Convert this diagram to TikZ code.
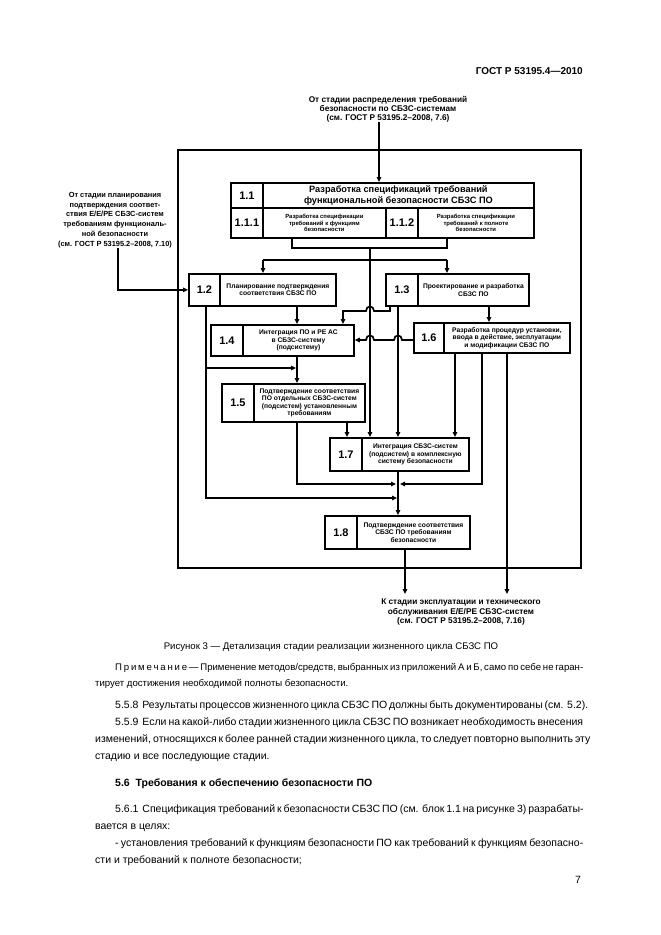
\documentclass[tikz,border=0pt]{standalone}
\usepackage{fontspec}
\setmainfont{Liberation Sans}
\usetikzlibrary{arrows.meta}
\begin{document}
\begin{tikzpicture}[x=1pt,y=-1pt,
  cell/.style={draw,line width=1.8pt,anchor=north west,inner sep=0pt,align=center,
    font=\bfseries\fontsize{6.7}{7.6}\selectfont},
  tiny/.style={cell,font=\bfseries\fontsize{5.9}{6.8}\selectfont},
  big/.style={cell,font=\bfseries\fontsize{9.2}{10.5}\selectfont},
  lbl/.style={cell,font=\bfseries\fontsize{11}{12}\selectfont},
  conn/.style={line width=1.7pt},
  arr/.style={conn,-{Triangle[length=5pt,width=4.5pt]}},
  outtxt/.style={align=center,inner sep=0pt,font=\bfseries\fontsize{8.3}{9.2}\selectfont},
  body/.style={anchor=base west,inner sep=0pt,font=\fontsize{10.5}{12}\selectfont},
  note/.style={anchor=base west,inner sep=0pt,font=\fontsize{9.6}{11}\selectfont}
]
\useasboundingbox (0,0) rectangle (661,935);
\fill[white] (0,0) rectangle (661,935);

% header
\node[anchor=base east,inner sep=0pt,font=\bfseries\fontsize{10}{12}\selectfont] (hdr) at (583,74) {ГОСТ Р 53195.4—2010};

% frame
\draw[line width=1.4pt] (178,150) rectangle (581,568);

% outside texts
\node[outtxt] (ttop) at (388,109) {От стадии распределения требований\\безопасности по СБЗС-системам\\(см. ГОСТ Р 53195.2–2008, 7.6)};
\node[outtxt,font=\bfseries\fontsize{7.4}{9.8}\selectfont] (tleft) at (115,220) {От стадии планирования\\подтверждения соответ-\\ствия Е/Е/РЕ СБЗС-систем\\требованиям функциональ-\\ной безопасности\\(см. ГОСТ Р 53195.2–2008, 7.10)};
\node[outtxt] (tbot) at (461,612) {К стадии эксплуатации и технического\\обслуживания Е/Е/РЕ СБЗС-систем\\(см. ГОСТ Р 53195.2–2008, 7.16)};

% box 1.1
\node[lbl,minimum width=32pt,minimum height=25pt] (b11n) at (230,182) {1.1};
\node[big,minimum width=271pt,minimum height=25pt] (b11) at (262,182) {Разработка спецификаций требований\\функциональной безопасности СБЗС ПО};
\node[lbl,minimum width=32pt,minimum height=30pt] (b111n) at (230,207) {1.1.1};
\node[tiny,minimum width=123pt,minimum height=30pt] (b111) at (262,207) {Разработка спецификации\\требований к функциям\\безопасности};
\node[lbl,minimum width=32pt,minimum height=30pt] (b112n) at (385,207) {1.1.2};
\node[tiny,minimum width=116pt,minimum height=30pt] (b112) at (417,207) {Разработка спецификации\\требований к полноте\\безопасности};

% box 1.2
\node[lbl,minimum width=31pt,minimum height=32pt] (b12n) at (188,273) {1.2};
\node[cell,minimum width=116pt,minimum height=32pt] (b12) at (219,273) {Планирование подтверждения\\соответствия СБЗС ПО};
% box 1.3
\node[lbl,minimum width=32pt,minimum height=32pt] (b13n) at (385,273) {1.3};
\node[cell,minimum width=111pt,minimum height=32pt] (b13) at (417,273) {Проектирование и разработка\\СБЗС ПО};
% box 1.4
\node[lbl,minimum width=32pt,minimum height=31pt] (b14n) at (210,324) {1.4};
\node[cell,minimum width=111pt,minimum height=31pt] (b14) at (242,324) {Интеграция ПО и РЕ АС\\в СБЗС-систему\\(подсистему)};
% box 1.5
\node[lbl,minimum width=32pt,minimum height=38pt] (b15n) at (221,383) {1.5};
\node[cell,minimum width=111pt,minimum height=38pt] (b15) at (253,383) {Подтверждение соответствия\\ПО отдельных СБЗС-систем\\(подсистем) установленным\\требованиям};
% box 1.6
\node[lbl,minimum width=30pt,minimum height=30pt] (b16n) at (413,322) {1.6};
\node[cell,minimum width=126pt,minimum height=30pt] (b16) at (443,322) {Разработка процедур установки,\\ввода в действие, эксплуатации\\и модификации СБЗС ПО};
% box 1.7
\node[lbl,minimum width=32pt,minimum height=33pt] (b17n) at (329,437) {1.7};
\node[cell,minimum width=107pt,minimum height=33pt] (b17) at (361,437) {Интеграция СБЗС-систем\\(подсистем) в комплексную\\систему безопасности};
% box 1.8
\node[lbl,minimum width=32pt,minimum height=33pt] (b18n) at (324,515) {1.8};
\node[cell,minimum width=113pt,minimum height=33pt] (b18) at (356,515) {Подтверждение соответствия\\СБЗС ПО требованиям\\безопасности};

% connectors
\draw[arr] (379,0 |- ttop.south) -- (379,0 |- b11.north);
\draw[conn] (292,0 |- b111.south) -- (292,248) -- (447,248) -- (447,0 |- b112.south);
\draw[arr] (370,248) -- (370,0 |- b17.north);
\draw[conn] (263,260) -- (447,260);
\draw[arr] (263,260) -- (263,0 |- b12n.north);
\draw[arr] (447,260) -- (447,0 |- b13.north);
\draw[arr] (118,0 |- tleft.south) -- (118,0 |- b12n.west) -- (b12n.west);
\draw[arr] (297,0 |- b12.south) -- (297,0 |- b14.north);
\draw[arr] (206,0 |- b12n.south) -- (206,498) -- (397,498);
\draw[arr] (206,368) -- (296,368);
\draw[arr] (297,0 |- b14.south) -- (297,0 |- b15.north);
\draw[arr] (347,0 |- b15.south) -- (347,0 |- b17n.north);
\draw[arr] (297,0 |- b15.south) -- (297,484) -- (396,484);
\draw[arr] (390,0 |- b13n.south) -- (390,311) -- (374,311) .. controls (374,305) and (366,305) .. (366,311) -- (343,311) -- (343,0 |- b14.north);
\draw[arr] (398,0 |- b13n.south) -- (398,0 |- b17.north);
\draw[arr] (489,0 |- b13.south) -- (489,0 |- b16.north);
\draw[arr] (b16n.west |- 0,340) -- (402,340) .. controls (402,334) and (394,334) .. (394,340) -- (374,340) .. controls (374,334) and (366,334) .. (366,340) -- (b14.east |- 0,340);
\draw[arr] (455,0 |- b16.south) -- (455,0 |- b17.north);
\draw[arr] (482,0 |- b16.south) -- (482,484) -- (400,484);
\draw[arr] (507,0 |- b16.south) -- (507,594);
\draw[arr] (398,0 |- b17.south) -- (398,0 |- b18.north);
\draw[arr] (405,0 |- b18.south) -- (405,594);

% caption and body text
\node[anchor=base,inner sep=0pt,font=\fontsize{9.6}{11}\selectfont] (cap) at (331,649.5) {Рисунок 3 — Детализация стадии реализации жизненного цикла СБЗС ПО};
\node[note] (n1) at (115,670.5) {\makebox[468pt][s]{П р и м е ч а н и е — Применение методов/средств, выбранных из приложений А и Б, само по себе не гаран-}};
\node[note] (n2) at (95,686.5) {тирует достижения необходимой полноты безопасности.};
\node[body] (p1) at (115,708) {\makebox[468pt][s]{5.5.8\ \ Результаты процессов жизненного цикла СБЗС ПО должны быть документированы (см. 5.2).}};
\node[body] (p2) at (115,725) {\makebox[468pt][s]{5.5.9\ \ Если на какой-либо стадии жизненного цикла СБЗС ПО возникает необходимость внесения}};
\node[body] (p3) at (95,742) {\makebox[488pt][s]{изменений, относящихся к более ранней стадии жизненного цикла, то следует повторно выполнить эту}};
\node[body] (p4) at (95,759) {стадию и все последующие стадии.};
\node[body,font=\bfseries\fontsize{10.5}{12}\selectfont] (h56) at (115,786) {5.6\ \ Требования к обеспечению безопасности ПО};
\node[body] (p5) at (115,812) {\makebox[468pt][s]{5.6.1\ \ Спецификация требований к безопасности СБЗС ПО (см. блок 1.1 на рисунке 3) разрабаты-}};
\node[body] (p6) at (95,829) {вается в целях:};
\node[body] (p7) at (115,846) {\makebox[468pt][s]{- установления требований к функциям безопасности ПО как требований к функциям безопасно-}};
\node[body] (p8) at (95,863) {сти и требований к полноте безопасности;};
\node[body] (pg) at (575,883) {7};
\end{tikzpicture}
\end{document}
